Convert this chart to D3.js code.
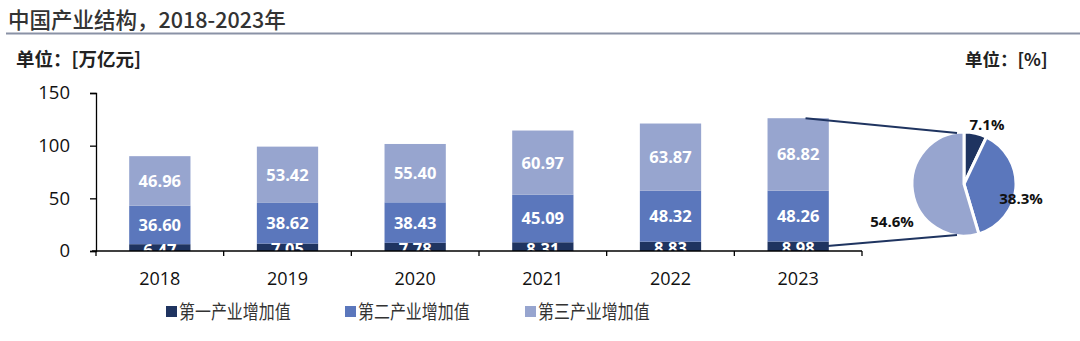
<!DOCTYPE html>
<html><head><meta charset="utf-8">
<script src="https://cdn.jsdelivr.net/npm/d3@7"></script>
<style>body{margin:0;background:#fff;}svg{display:block;}</style>
</head><body>
<svg id="c" width="1080" height="341"></svg>
<script>
const years = ["2018","2019","2020","2021","2022","2023"];
const seriesNames = ["第一产业增加值","第二产业增加值","第三产业增加值"];
const primary = [6.47, 7.05, 7.78, 8.31, 8.83, 8.98];
const secondary = [36.60, 38.62, 38.43, 45.09, 48.32, 48.26];
const tertiary = [46.96, 53.42, 55.40, 60.97, 63.87, 68.82];
const pieShares = [7.1, 38.3, 54.6];
const yTicks = [0, 50, 100, 150];
const colors = ["#1f3460", "#5b77bc", "#97a5cf"];

const cjk = "'Noto Sans CJK SC', 'Noto Sans', sans-serif";
const num = "'Open Sans', 'Noto Sans', sans-serif";
const svg = d3.select("#c");

// title
svg.append("text").attr("x", 8).attr("y", 28).text("中国产业结构，2018-2023年")
  .style("font-family", cjk).style("font-size", "21.5px").style("font-weight", 500).attr("fill", "#333");
svg.append("line").attr("x1", 6).attr("x2", 1080).attr("y1", 33.5).attr("y2", 33.5)
  .attr("stroke", "#8a92a6").attr("stroke-width", 2);
svg.append("text").attr("x", 16).attr("y", 66).text("单位：[万亿元]")
  .style("font-family", cjk).style("font-size", "18.5px").style("font-weight", 700).attr("fill", "#222");
svg.append("text").attr("x", 965).attr("y", 66).text("单位：[%]")
  .style("font-family", cjk).style("font-size", "17.5px").style("font-weight", 700).attr("fill", "#222");

const x = d3.scaleBand().domain(years).range([96, 862]).paddingInner(0.52).paddingOuter(0.26);
const y = d3.scaleLinear().domain([0, 150]).range([251, 93]);

const rows = years.map((yr, i) => ({year: yr, p: primary[i], s: secondary[i], t: tertiary[i]}));
const stack = d3.stack().keys(["p", "s", "t"])(rows);

const g = svg.append("g");
stack.forEach((layer, li) => {
  g.selectAll(null).data(layer).enter().append("rect")
    .attr("x", d => x(d.data.year)).attr("width", x.bandwidth())
    .attr("y", d => y(d[1])).attr("height", d => y(d[0]) - y(d[1]))
    .attr("fill", colors[li]);
});
stack.forEach((layer, li) => {
  g.selectAll(null).data(layer).enter().append("text")
    .attr("x", d => x(d.data.year) + x.bandwidth() / 2)
    .attr("y", d => (y(d[0]) + y(d[1])) / 2 + (li === 0 ? 2 : 0))
    .attr("dy", "0.36em").attr("text-anchor", "middle")
    .text(d => (d[1] - d[0]).toFixed(2))
    .style("font-family", num).style("font-size", "16.5px").style("font-weight", 700).attr("fill", "#fff");
});
// white mask below the baseline so label halves disappear
svg.append("rect").attr("x", 96).attr("y", y(0)).attr("width", 770).attr("height", 20).attr("fill", "#fff");

// axes
const yAxis = svg.append("g").attr("transform", `translate(96,0)`)
  .call(d3.axisLeft(y).tickValues(yTicks).tickSize(6).tickPadding(20));
yAxis.select(".domain").attr("stroke", "#000").attr("stroke-width", 1.3);
yAxis.selectAll("line").attr("stroke", "#000").attr("stroke-width", 1.3);
yAxis.selectAll("text").style("font-family", num).style("font-size", "18.5px").attr("fill", "#111");

const xAxisBoundary = d3.scaleLinear().domain([0, 6]).range([96, 862]);
svg.append("line").attr("x1", 92).attr("x2", 862).attr("y1", y(0)).attr("y2", y(0))
  .attr("stroke", "#000").attr("stroke-width", 1.3);
svg.selectAll(null).data(d3.range(7)).enter().append("line")
  .attr("x1", d => xAxisBoundary(d)).attr("x2", d => xAxisBoundary(d))
  .attr("y1", y(0)).attr("y2", y(0) + 5).attr("stroke", "#000").attr("stroke-width", 1.3);
svg.selectAll(null).data(years).enter().append("text")
  .attr("x", d => x(d) + x.bandwidth() / 2).attr("y", 285).attr("text-anchor", "middle")
  .text(d => d).style("font-family", num).style("font-size", "18px").attr("fill", "#111");

// pie
const cx = 964, cy = 184, r = 52;
const arcs = d3.pie().sort(null)(pieShares);
const arc = d3.arc().innerRadius(0).outerRadius(r);
const pg = svg.append("g").attr("transform", `translate(${cx},${cy})`);
pg.selectAll(null).data(arcs).enter().append("path")
  .attr("d", arc).attr("fill", (d, i) => colors[i]).attr("stroke", "#fff").attr("stroke-width", 3);

// connector lines
const last = years[years.length - 1];
const lastTotal = primary[5] + secondary[5] + tertiary[5];
const lx = x(last) + x.bandwidth() * 0.62;
svg.append("line").attr("x1", lx).attr("y1", y(lastTotal)).attr("x2", cx - 7).attr("y2", cy - r + 1)
  .attr("stroke", "#1f3460").attr("stroke-width", 2);
svg.append("line").attr("x1", lx + 10).attr("y1", y(0) - 4).attr("x2", cx - 7).attr("y2", cy + r - 1)
  .attr("stroke", "#1f3460").attr("stroke-width", 2);

// pie labels
const pieLabelPos = [[987, 125], [1021, 199], [892, 222]];
svg.selectAll(null).data(arcs).enter().append("text")
  .attr("x", (d, i) => pieLabelPos[i][0]).attr("y", (d, i) => pieLabelPos[i][1])
  .attr("dy", "0.36em").attr("text-anchor", "middle")
  .text(d => d.data.toFixed(1) + "%")
  .style("font-family", num).style("font-size", "15px").style("font-weight", 700).attr("fill", "#111");

// legend
const legendX = [166, 345, 525];
const lg = svg.selectAll(null).data(seriesNames).enter().append("g")
  .attr("transform", (d, i) => `translate(${legendX[i]},312)`);
lg.append("rect").attr("x", 0).attr("y", -6).attr("width", 11).attr("height", 11).attr("fill", (d, i) => colors[i]);
lg.append("text").attr("transform", "translate(13,0) scale(0.84,1)").attr("dy", "0.36em").text(d => d)
  .style("font-family", cjk).style("font-size", "19px").attr("fill", "#333");
</script>
</body></html>
